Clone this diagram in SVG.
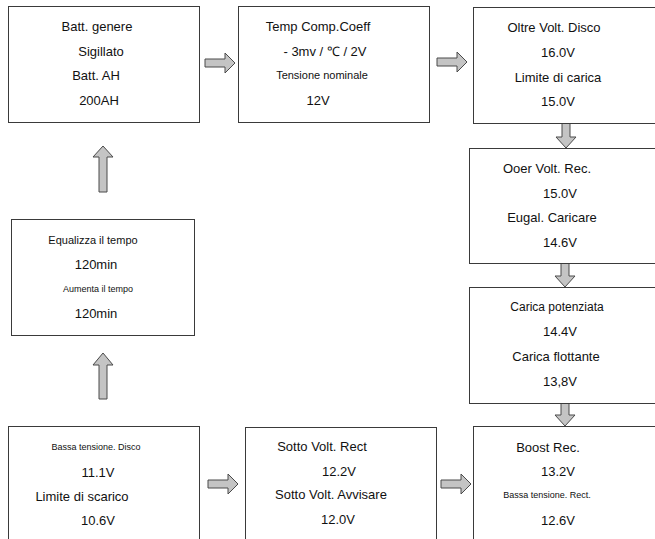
<svg xmlns="http://www.w3.org/2000/svg" width="655" height="539" viewBox="0 0 655 539">
<style>
.box{fill:#fff;stroke:#3a3a3a;stroke-width:1}
.arr{fill:#c4c4c4;stroke:#4a4a4a;stroke-width:1;stroke-linejoin:miter}
text{font-family:"Liberation Sans",Arial,sans-serif;fill:#111;text-anchor:middle;dominant-baseline:central}
.l{font-size:13px}
.m{font-size:12px}
.s{font-size:11px}
.xs{font-size:9px}
</style>
<rect width="655" height="539" fill="#fff"/>
<g id="connectors">
<polygon class="arr" points="205,59 225,59 225,53 235,63 225,73 225,67 205,67"/>
<polygon class="arr" points="437,58 457,58 457,52 467,62 457,72 457,66 437,66"/>
<polygon class="arr" points="562,123 570,123 570,137 576,137 566,148 556,137 562,137"/>
<polygon class="arr" points="561,263 569,263 569,276 575,276 565,287 555,276 561,276"/>
<polygon class="arr" points="561,403 569,403 569,415 575,415 565,426 555,415 561,415"/>
<polygon class="arr" points="99,192 107,192 107,157 113,157 103,146 93,157 99,157"/>
<polygon class="arr" points="99,399 107,399 107,365 113,365 103,353 93,365 99,365"/>
<polygon class="arr" points="208,480 228,480 228,474 238,484 228,494 228,488 208,488"/>
<polygon class="arr" points="441,480 461,480 461,474 471,484 461,494 461,488 441,488"/>
</g>
<g id="n1">
<rect class="box" x="8.5" y="6.5" width="191" height="116"/>
<text class="l" x="97" y="26">Batt. genere</text>
<text class="l" x="101" y="51">Sigillato</text>
<text class="l" x="96" y="75">Batt. AH</text>
<text class="l" x="99" y="100">200AH</text>
</g>
<g id="n2">
<rect class="box" x="238.5" y="6.5" width="191" height="116"/>
<text class="l" x="318" y="26">Temp Comp.Coeff</text>
<text class="l" x="325" y="51">- 3mv / ℃ / 2V</text>
<text class="s" x="322" y="75">Tensione nominale</text>
<text class="l" x="318" y="100">12V</text>
</g>
<g id="n3">
<rect class="box" x="473.5" y="7.5" width="200" height="116"/>
<text class="l" x="554" y="27">Oltre Volt. Disco</text>
<text class="l" x="558" y="52">16.0V</text>
<text class="l" x="558" y="77">Limite di carica</text>
<text class="l" x="558" y="101">15.0V</text>
</g>
<g id="n4">
<rect class="box" x="469.5" y="148.5" width="200" height="115"/>
<text class="l" x="547" y="168">Ooer Volt. Rec.</text>
<text class="l" x="560" y="193">15.0V</text>
<text class="l" x="552" y="217">Eugal. Caricare</text>
<text class="l" x="560" y="242">14.6V</text>
</g>
<g id="n5">
<rect class="box" x="469.5" y="287.5" width="200" height="116"/>
<text class="m" x="557" y="307">Carica potenziata</text>
<text class="l" x="560" y="331">14.4V</text>
<text class="l" x="556" y="356">Carica flottante</text>
<text class="l" x="560" y="381">13,8V</text>
</g>
<g id="n6">
<rect class="box" x="473.5" y="426.5" width="200" height="130"/>
<text class="l" x="548" y="447">Boost Rec.</text>
<text class="l" x="558" y="471">13.2V</text>
<text class="xs" x="547" y="495">Bassa tensione. Rect.</text>
<text class="l" x="558" y="520">12.6V</text>
</g>
<g id="n7">
<rect class="box" x="245.5" y="427.5" width="191" height="130"/>
<text class="l" x="322" y="446">Sotto Volt. Rect</text>
<text class="l" x="339" y="471">12.2V</text>
<text class="l" x="331" y="494">Sotto Volt. Avvisare</text>
<text class="l" x="338" y="519">12.0V</text>
</g>
<g id="n8">
<rect class="box" x="8.5" y="426.5" width="191" height="130"/>
<text class="xs" x="96" y="447">Bassa tensione. Disco</text>
<text class="l" x="98" y="472">11.1V</text>
<text class="l" x="82" y="496">Limite di scarico</text>
<text class="l" x="98" y="520">10.6V</text>
</g>
<g id="n9">
<rect class="box" x="11.5" y="219.5" width="183" height="116"/>
<text class="s" x="93" y="240">Equalizza il tempo</text>
<text class="l" x="96" y="264">120min</text>
<text class="xs" x="98" y="289">Aumenta il tempo</text>
<text class="l" x="96" y="313">120min</text>
</g>
</svg>
